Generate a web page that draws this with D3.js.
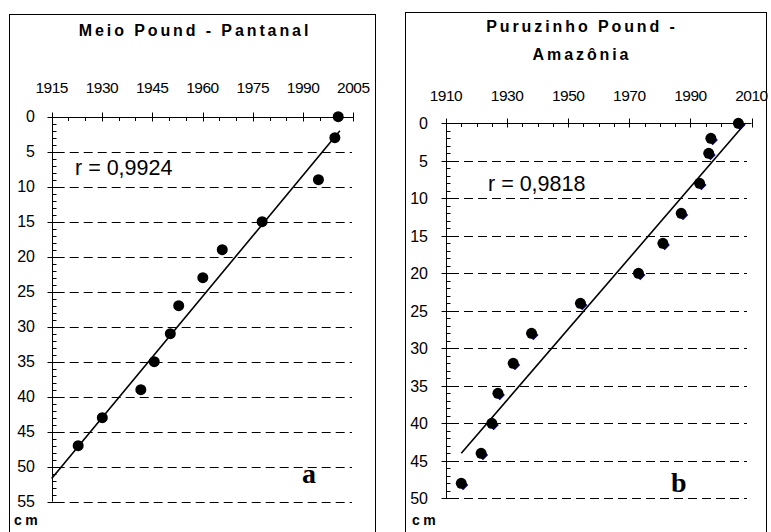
<!DOCTYPE html>
<html>
<head>
<meta charset="utf-8">
<script src="https://cdn.jsdelivr.net/npm/d3@7"></script>
<style>
  body { margin: 0; background: #fff; }
  svg { display: block; font-family: Arial, "Liberation Sans", sans-serif; }
</style>
</head>
<body>
<svg id="chart" width="771" height="532"></svg>
<script>
// panel a - Meio Pound (Pantanal)
const yearsA = [2000.5, 1999.5, 1994.6, 1977.8, 1965.9, 1960.1, 1952.9, 1950.4, 1945.6, 1941.6, 1930.1, 1922.9]
const depthA = [0, 3, 9, 15, 19, 23, 27, 31, 35, 39, 43, 47]
const trendYearsA = [1915, 2001]
const trendDepthA = [51.7, 2]
const yearTicksA = [1915, 1930, 1945, 1960, 1975, 1990, 2005]
const depthTicksA = [0, 5, 10, 15, 20, 25, 30, 35, 40, 45, 50, 55]

// panel b - Puruzinho Pound (Amazônia)
const yearsB = [2005.7, 1996.7, 1996, 1993, 1987, 1981, 1973, 1954, 1938, 1932, 1927, 1925, 1921.5, 1915]
const depthB = [0, 2, 4, 8, 12, 16, 20, 24, 28, 32, 36, 40, 44, 48]
const trendYearsB = [1915, 2008]
const trendDepthB = [44, 0]
const yearTicksB = [1910, 1930, 1950, 1970, 1990, 2010]
const depthTicksB = [0, 5, 10, 15, 20, 25, 30, 35, 40, 45, 50]

const svg = d3.select('#chart')

function panel(cfg) {
    var g = svg.append('g')
    var x = d3.scaleLinear().domain(cfg.xDomain).range(cfg.xRange)
    var y = d3.scaleLinear().domain(cfg.yDomain).range(cfg.yRange)

    // frame
    g.append('rect')
        .attr('x', cfg.box[0] + 0.5).attr('y', cfg.box[1] + 0.5)
        .attr('width', cfg.box[2]).attr('height', cfg.box[3])
        .attr('fill', 'none').attr('stroke', '#000').attr('stroke-width', 1)

    // title lines
    cfg.title.forEach(function (t, i) {
        g.append('text')
            .attr('x', cfg.titleX).attr('y', cfg.titleY + i * cfg.titleGap)
            .attr('text-anchor', 'middle')
            .style('font-size', '16px').style('font-weight', 'bold')
            .style('letter-spacing', '2.9px')
            .text(t)
    })

    // dashed gridlines
    g.selectAll('.grid')
        .data(cfg.yTicks.filter(function (d) { return d > 0 }))
        .enter().append('line')
        .attr('x1', x(cfg.xDomain[0]) + 4).attr('x2', cfg.gridEnd)
        .attr('y1', function (d) { return Math.round(y(d)) + 0.5 })
        .attr('y2', function (d) { return Math.round(y(d)) + 0.5 })
        .attr('stroke', '#000').attr('stroke-dasharray', '9,5')

    // x axis on top (years)
    var xMinor = d3.range(cfg.xDomain[0], cfg.xDomain[1] + 0.1, 5)
    var x0 = Math.round(y(0)) + 0.5
    g.append('line')
        .attr('x1', x(cfg.xDomain[0])).attr('x2', x(cfg.xDomain[1]))
        .attr('y1', x0).attr('y2', x0).attr('stroke', '#000')
    g.selectAll('.xminor').data(xMinor).enter().append('line')
        .attr('x1', function (d) { return Math.round(x(d)) + 0.5 })
        .attr('x2', function (d) { return Math.round(x(d)) + 0.5 })
        .attr('y1', x0).attr('y2', x0 + 3.5).attr('stroke', '#000')
    g.selectAll('.xmajor').data(cfg.xTicks).enter().append('line')
        .attr('x1', function (d) { return Math.round(x(d)) + 0.5 })
        .attr('x2', function (d) { return Math.round(x(d)) + 0.5 })
        .attr('y1', x0 - 5).attr('y2', x0 + 4).attr('stroke', '#000')
    g.selectAll('.xlab').data(cfg.xTicks).enter().append('text')
        .attr('x', function (d) { return x(d) }).attr('y', cfg.xLabelY)
        .attr('text-anchor', 'middle').style('font-size', '15.5px')
        .style('letter-spacing', '-0.5px')
        .text(function (d) { return d })

    // y axis (depth, downward)
    var ax = Math.round(x(cfg.xDomain[0])) + 0.5
    g.append('line')
        .attr('x1', ax).attr('x2', ax)
        .attr('y1', y(0)).attr('y2', y(cfg.yDomain[1])).attr('stroke', '#000')
    g.selectAll('.yminor').data(d3.range(0, cfg.yDomain[1] + 0.1, 1)).enter().append('line')
        .attr('x1', ax).attr('x2', ax + 4)
        .attr('y1', function (d) { return Math.round(y(d)) + 0.5 })
        .attr('y2', function (d) { return Math.round(y(d)) + 0.5 })
        .attr('stroke', '#000')
    g.selectAll('.ymajor').data(cfg.yTicks).enter().append('line')
        .attr('x1', ax - 5).attr('x2', ax + 4)
        .attr('y1', function (d) { return Math.round(y(d)) + 0.5 })
        .attr('y2', function (d) { return Math.round(y(d)) + 0.5 })
        .attr('stroke', '#000')
    g.selectAll('.ylab').data(cfg.yTicks).enter().append('text')
        .attr('x', cfg.yLabelX).attr('y', function (d) { return y(d) })
        .attr('dy', '0.36em')
        .attr('text-anchor', 'end').style('font-size', '16px')
        .text(function (d) { return d })

    // trend line
    g.append('line')
        .attr('x1', x(cfg.trendX[0])).attr('y1', y(cfg.trendY[0]))
        .attr('x2', x(cfg.trendX[1])).attr('y2', y(cfg.trendY[1]))
        .attr('stroke', '#000').attr('stroke-width', 1.6)

    // points
    var pts = cfg.years.map(function (d, i) { return [d, cfg.depth[i]] })
    if (cfg.diamonds) {
        g.selectAll('.dia').data(pts).enter().append('path')
            .attr('d', function (d) {
                var cx = x(d[0]) + 1.8, cy = y(d[1]) + 1.8, s = 5.2
                return 'M' + cx + ',' + (cy - s) + 'L' + (cx + s) + ',' + cy +
                    'L' + cx + ',' + (cy + s) + 'L' + (cx - s) + ',' + cy + 'Z'
            })
            .attr('fill', '#000080')
    }
    g.selectAll('.dot').data(pts).enter().append('circle')
        .attr('cx', function (d) { return x(d[0]) })
        .attr('cy', function (d) { return y(d[1]) })
        .attr('r', 5.5).attr('fill', '#000')

    // correlation text
    g.append('text')
        .attr('x', cfg.rPos[0]).attr('y', cfg.rPos[1])
        .style('font-size', '21.5px')
        .text(cfg.rText)

    // panel letter
    g.append('text')
        .attr('x', cfg.letterPos[0]).attr('y', cfg.letterPos[1])
        .style('font-family', '"Liberation Serif", "Times New Roman", serif')
        .style('font-weight', 'bold').style('font-size', '28px')
        .text(cfg.letter)

    // unit
    g.append('text')
        .attr('x', cfg.cmX).attr('y', 525)
        .style('font-size', '14px').style('font-weight', 'bold')
        .style('letter-spacing', '3.5px')
        .text('cm')
}

panel({
    box: [9, 14, 366, 530],
    title: ['Meio Pound - Pantanal'], titleX: 195, titleY: 36, titleGap: 0,
    xDomain: [1915, 2005], xRange: [51.7, 353.3],
    yDomain: [0, 55], yRange: [116.7, 501.7],
    xTicks: yearTicksA, yTicks: depthTicksA,
    xLabelY: 92.5, yLabelX: 35, gridEnd: 352,
    years: yearsA, depth: depthA,
    trendX: trendYearsA, trendY: trendDepthA,
    rText: 'r = 0,9924', rPos: [75, 174.5],
    letter: 'a', letterPos: [302, 483], cmX: 14, diamonds: false
})

panel({
    box: [405, 12, 361, 530],
    title: ['Puruzinho Pound -', 'Amazônia'], titleX: 582, titleY: 31.5, titleGap: 28.5,
    xDomain: [1910, 2010], xRange: [446, 751.5],
    yDomain: [0, 50], yRange: [123.3, 498.3],
    xTicks: yearTicksB, yTicks: depthTicksB,
    xLabelY: 100.5, yLabelX: 428, gridEnd: 747,
    years: yearsB, depth: depthB,
    trendX: trendYearsB, trendY: trendDepthB,
    rText: 'r = 0,9818', rPos: [488, 191],
    letter: 'b', letterPos: [671, 491.5], cmX: 412, diamonds: true
})
</script>
</body>
</html>
